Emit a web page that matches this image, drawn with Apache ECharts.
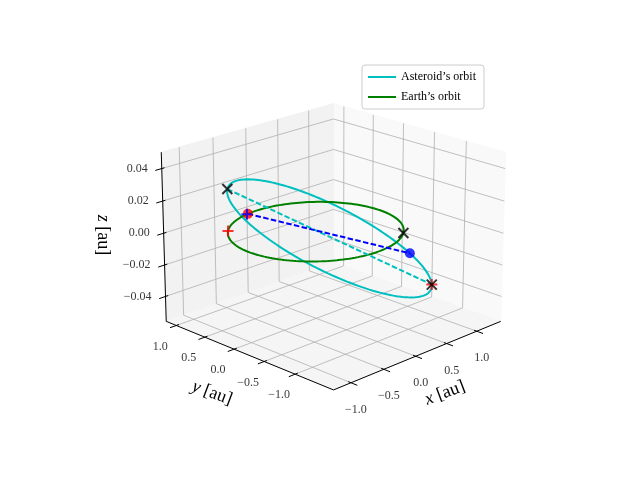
<!DOCTYPE html>
<html><head><meta charset="utf-8">
<script src="https://cdn.jsdelivr.net/npm/echarts/dist/echarts.min.js"></script>
<style>html,body{margin:0;padding:0;background:#fff}#c{width:640px;height:480px}</style>
</head><body><div id="c"></div>
<script>
// ---- data ----
const xLim = [-1.26, 1.41];
const yLim = [-1.60, 1.18];
const zLim = [-0.056, 0.050];
const xTicks = [-1, -0.5, 0, 0.5, 1];
const yTicks = [-1, -0.5, 0, 0.5, 1];
const zTicks = [-0.04, -0.02, 0, 0.02, 0.04];
const xTickLabels = ['−1.0', '−0.5', '0.0', '0.5', '1.0'];
const yTickLabels = ['−1.0', '−0.5', '0.0', '0.5', '1.0'];
const zTickLabels = ['−0.04', '−0.02', '0.00', '0.02', '0.04'];
const earthRadius = 1.0;
const asteroidElements = [1.165, 0.142, 1.5, 45, 90]; // a, e, inc, node, arg. peri
const blackXAsteroidNu = [0, 180];
const blackXEarthDeg = [-51];
const redPlusEarthDeg = [135];
const redPlusAsteroidNu = [180];
const redDotEarthDeg = [99];
const bluePlusEarthDeg = [100];
const blueDotAsteroidNu = [213];
const seriesNames = ['Asteroid’s orbit', 'Earth’s orbit'];

// ---- projection (matplotlib-like 3D view) ----
const elev = 20 * Math.PI / 180, azim = -135 * Math.PI / 180, dist = 10;
const asp = [4, 4, 3], nrm = Math.hypot(4, 4, 3);
const pb = asp.map(v => v * 1.8294640721620434 / nrm);
const R = pb.map(v => v / 2);
const w = [Math.cos(elev) * Math.cos(azim), Math.cos(elev) * Math.sin(azim), Math.sin(elev)];
let u = [-w[1], w[0], 0]; const un = Math.hypot(u[0], u[1]); u = u.map(v => v / un);
const vv = [w[1] * u[2] - w[2] * u[1], w[2] * u[0] - w[0] * u[2], w[0] * u[1] - w[1] * u[0]];
function proj(p) {
  const X = (p[0] - xLim[0]) / (xLim[1] - xLim[0]) * pb[0] - R[0];
  const Y = (p[1] - yLim[0]) / (yLim[1] - yLim[0]) * pb[1] - R[1];
  const Z = (p[2] - zLim[0]) / (zLim[1] - zLim[0]) * pb[2] - R[2];
  const d = dist - (w[0] * X + w[1] * Y + w[2] * Z);
  return [(u[0] * X + u[1] * Y) / d, (vv[0] * X + vv[1] * Y + vv[2] * Z) / d];
}
const SC = 2100, CX = 333.5, CY = 238;

function earthPos(deg) { const t = deg * Math.PI / 180; return [earthRadius * Math.cos(t), earthRadius * Math.sin(t), 0]; }
function astPos(nuDeg) {
  const [a, e, inc, node, peri] = asteroidElements;
  const nu = nuDeg * Math.PI / 180, i = inc * Math.PI / 180, O = node * Math.PI / 180;
  const r = a * (1 - e * e) / (1 + e * Math.cos(nu));
  const uu = peri * Math.PI / 180 + nu;
  return [r * (Math.cos(O) * Math.cos(uu) - Math.sin(O) * Math.sin(uu) * Math.cos(i)),
          r * (Math.sin(O) * Math.cos(uu) + Math.cos(O) * Math.sin(uu) * Math.cos(i)),
          r * Math.sin(uu) * Math.sin(i)];
}

const series = [];
const [x0, x1] = xLim, [y0, y1] = yLim, [z0, z1] = zLim;
const panes = [
  [[x1, y0, z0], [x1, y1, z0], [x1, y1, z1], [x1, y0, z1]],
  [[x0, y1, z0], [x1, y1, z0], [x1, y1, z1], [x0, y1, z1]],
  [[x0, y0, z0], [x1, y0, z0], [x1, y1, z0], [x0, y1, z0]]
];
const paneColors = ['#f9f9f9', '#f2f2f2', '#f5f5f5'];
series.push({
  type: 'custom', silent: true, z: 0,
  data: panes.map((p, i) => [i, 0]),
  renderItem: (params, api) => {
    const pts = panes[params.dataIndex].map(p => api.coord(proj(p)));
    return { type: 'polygon', shape: { points: pts }, style: { fill: paneColors[params.dataIndex], stroke: paneColors[params.dataIndex] } };
  }
});
function lineSeries(pts, style, z, name) {
  const s = { type: 'line', data: pts.map(proj), showSymbol: false, silent: true, z: z || 1, lineStyle: style, animation: false };
  if (name) { s.name = name; s.itemStyle = { color: style.color }; }
  series.push(s);
}
const gs = { color: '#b0b0b0', width: 0.8 };
yTicks.forEach(t => lineSeries([[x1, t, z0], [x1, t, z1]], gs));
zTicks.forEach(t => lineSeries([[x1, y0, t], [x1, y1, t]], gs));
xTicks.forEach(t => lineSeries([[t, y1, z0], [t, y1, z1]], gs));
zTicks.forEach(t => lineSeries([[x0, y1, t], [x1, y1, t]], gs));
xTicks.forEach(t => lineSeries([[t, y0, z0], [t, y1, z0]], gs));
yTicks.forEach(t => lineSeries([[x0, t, z0], [x1, t, z0]], gs));
const ax = { color: '#000', width: 1 };
lineSeries([[x0, y0, z0], [x1, y0, z0]], ax, 2);
lineSeries([[x0, y0, z0], [x0, y1, z0]], ax, 2);
lineSeries([[x0, y1, z0], [x0, y1, z1]], ax, 2);
const yr = y1 - y0, xr = x1 - x0;
xTicks.forEach(t => lineSeries([[t, y0 + 0.015 * yr, z0], [t, y0 - 0.035 * yr, z0]], ax, 2));
yTicks.forEach(t => lineSeries([[x0 + 0.015 * xr, t, z0], [x0 - 0.035 * xr, t, z0]], ax, 2));
zTicks.forEach(t => lineSeries([[x0 + 0.015 * xr, y1, t], [x0 - 0.035 * xr, y1, t]], ax, 2));
const tf = { fontFamily: 'Liberation Serif', fontSize: 12, color: '#000' };
function labelSeries(pts, texts, offset, align) {
  series.push({
    type: 'scatter', symbolSize: 0, silent: true, z: 3,
    data: pts.map((p, i) => ({ value: proj(p), name: texts[i] })),
    label: Object.assign({ show: true, position: 'inside', formatter: p => p.name, offset: offset, align: align || 'center', verticalAlign: 'middle' }, tf)
  });
}
labelSeries(xTicks.map(t => [t, y0, z0]), xTickLabels, [5, 27]);
labelSeries(yTicks.map(t => [x0, t, z0]), yTickLabels, [-16, 21]);
labelSeries(zTicks.map(t => [x0, y1, t]), zTickLabels, [-14, 0], 'right');
const astPts = [], earthPts = [];
for (let k = 0; k <= 360; k += 2) { astPts.push(astPos(k)); earthPts.push(earthPos(k)); }
lineSeries(astPts, { color: '#00bfbf', width: 2 }, 4, seriesNames[0]);
lineSeries(earthPts, { color: '#008000', width: 2 }, 4, seriesNames[1]);
lineSeries([astPos(blackXAsteroidNu[0]), astPos(blackXAsteroidNu[1])], { color: '#00bfbf', width: 2, type: [5.5, 2.4] }, 5);
lineSeries([earthPos(redDotEarthDeg[0]), astPos(blueDotAsteroidNu[0])], { color: '#0000ff', width: 2, type: [5.5, 2.4] }, 5);
const xPath = 'path://M0,0L10,10M10,0L0,10';
const pPath = 'path://M5,0L5,10M0,5L10,5';
function markers(pts, sym, size, color, filled, z) {
  series.push({
    type: 'scatter', silent: true, z: z, symbol: sym, symbolSize: size, data: pts.map(proj),
    itemStyle: filled ? { color: color } : { color: 'none', borderColor: color, borderWidth: 2 }
  });
}
markers(redDotEarthDeg.map(earthPos), 'circle', 10, '#ff0000', true, 6);
markers(blueDotAsteroidNu.map(astPos), 'circle', 10, '#0000ff', true, 6);
markers(bluePlusEarthDeg.map(earthPos), pPath, 11, '#0000ff', false, 7);
markers(redPlusEarthDeg.map(earthPos).concat(redPlusAsteroidNu.map(astPos)), pPath, 11, '#ff0000', false, 7);
markers(blackXAsteroidNu.map(astPos).concat(blackXEarthDeg.map(earthPos)), xPath, 10, '#000000', false, 8);

const chart = echarts.init(document.getElementById('c'));
chart.setOption({
  animation: false,
  grid: { left: 0, right: 0, top: 0, bottom: 0 },
  xAxis: { type: 'value', show: false, min: -CX / SC, max: (640 - CX) / SC },
  yAxis: { type: 'value', show: false, min: -(480 - CY) / SC, max: CY / SC },
  legend: {
    data: seriesNames, orient: 'vertical', left: 362, top: 65, icon: 'rect', itemWidth: 28, itemHeight: 2,
    itemGap: 8, padding: [6, 8, 6, 6], borderColor: '#cccccc', borderWidth: 1, borderRadius: 3, backgroundColor: '#fff',
    textStyle: { fontFamily: 'Liberation Serif', fontSize: 12, color: '#000' }
  },
  graphic: [
    { type: 'text', x: 445, y: 393, rotation: 0.36,
      style: { text: '{i|x} [au]', x: 0, y: 0, align: 'center', verticalAlign: 'middle', font: '18px "Liberation Serif"', rich: { i: { fontStyle: 'italic', fontSize: 18, fontFamily: 'Liberation Serif' } } } },
    { type: 'text', x: 212, y: 393, rotation: -0.36,
      style: { text: '{i|y} [au]', x: 0, y: 0, align: 'center', verticalAlign: 'middle', font: '18px "Liberation Serif"', rich: { i: { fontStyle: 'italic', fontSize: 18, fontFamily: 'Liberation Serif' } } } },
    { type: 'text', x: 103, y: 235, rotation: -Math.PI / 2,
      style: { text: '{i|z} [au]', x: 0, y: 0, align: 'center', verticalAlign: 'middle', font: '18px "Liberation Serif"', rich: { i: { fontStyle: 'italic', fontSize: 18, fontFamily: 'Liberation Serif' } } } }
  ],
  series: series
});
</script></body></html>
